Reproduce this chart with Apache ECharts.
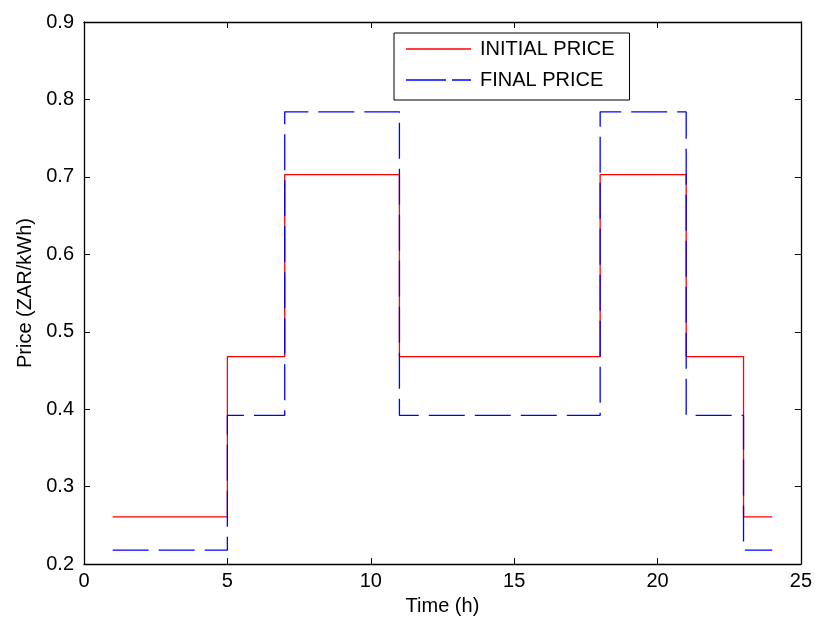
<!DOCTYPE html>
<html>
<head>
<meta charset="utf-8">
<script src="https://cdn.jsdelivr.net/npm/echarts@6/dist/echarts.min.js"></script>
<style>
  html, body { margin: 0; padding: 0; background: #fff; }
  #chart { width: 815px; height: 621px; }
</style>
</head>
<body>
<div id="chart"></div>
<script>
// Hourly tariff, stair-stepped over the day
const hours = [1, 2, 3, 4, 5, 6, 7, 8, 9, 10, 11, 12, 13, 14, 15, 16, 17, 18, 19, 20, 21, 22, 23, 24];
const initialPrice = [0.261, 0.261, 0.261, 0.261, 0.468, 0.468, 0.703, 0.703, 0.703, 0.703,
  0.468, 0.468, 0.468, 0.468, 0.468, 0.468, 0.468, 0.703, 0.703, 0.703, 0.468, 0.468, 0.261, 0.261];
const finalPrice = [0.218, 0.218, 0.218, 0.218, 0.392, 0.392, 0.784, 0.784, 0.784, 0.784,
  0.392, 0.392, 0.392, 0.392, 0.392, 0.392, 0.392, 0.784, 0.784, 0.784, 0.392, 0.392, 0.218, 0.218];
const xTicks = [0, 5, 10, 15, 20, 25];
const yTicks = [0.2, 0.3, 0.4, 0.5, 0.6, 0.7, 0.8, 0.9];

const font = 'Liberation Sans, Arial, Helvetica, sans-serif';
const chart = echarts.init(document.getElementById('chart'), null, { renderer: 'canvas' });

const pair = (xs, ys) => xs.map((x, i) => [x, ys[i]]);

const baseX = {
  type: 'value', min: xTicks[0], max: xTicks[xTicks.length - 1], interval: 5,
  splitLine: { show: false },
  axisLine: { show: true, onZero: false, lineStyle: { color: '#000', width: 1.3 } },
  axisTick: { show: true, inside: true, length: 6, lineStyle: { color: '#000' } }
};
const baseY = {
  type: 'value', min: yTicks[0], max: yTicks[yTicks.length - 1], interval: 0.1,
  splitLine: { show: false },
  axisLine: { show: true, onZero: false, lineStyle: { color: '#000', width: 1.3 } },
  axisTick: { show: true, inside: true, length: 6, lineStyle: { color: '#000' } }
};

// legend keys: a solid stroke and a long-dash stroke
const solidKey = 'path://M0,0H65V1.5H0Z';
const dashKey = 'path://M0,0H40V1.5H0Z M46,0H65V1.5H46Z';

chart.setOption({
  backgroundColor: '#fff',
  animation: false,
  textStyle: { fontFamily: font },
  grid: { left: 84, right: 13, top: 22, bottom: 55, containLabel: false },
  legend: {
    orient: 'vertical',
    left: 394, top: 33,
    backgroundColor: '#fff',
    borderColor: '#000', borderWidth: 1,
    padding: [5, 15, 9, 12],
    itemWidth: 65, itemHeight: 1.5, itemGap: 9,
    textStyle: { fontFamily: font, fontSize: 20, color: '#000', padding: [0, 0, 0, 4], lineHeight: 22 },
    data: [
      { name: 'INITIAL PRICE', icon: solidKey },
      { name: 'FINAL PRICE', icon: dashKey }
    ]
  },
  xAxis: [
    Object.assign({}, baseX, {
      position: 'bottom',
      name: 'Time (h)', nameLocation: 'middle', nameGap: 31,
      nameTextStyle: { fontFamily: font, fontSize: 20, color: '#000' },
      axisLabel: { show: true, color: '#000', fontSize: 20, fontFamily: font, margin: 7,
        formatter: v => String(v) }
    }),
    Object.assign({}, baseX, { position: 'top', axisLabel: { show: false } })
  ],
  yAxis: [
    Object.assign({}, baseY, {
      position: 'left',
      name: 'Price (ZAR/kWh)', nameLocation: 'middle', nameGap: 48, nameRotate: 90,
      nameTextStyle: { fontFamily: font, fontSize: 20, color: '#000' },
      axisLabel: { show: true, color: '#000', fontSize: 20, fontFamily: font, margin: 10,
        formatter: v => v.toFixed(1) }
    }),
    Object.assign({}, baseY, { position: 'right', axisLabel: { show: false } })
  ],
  series: [
    {
      name: 'INITIAL PRICE', type: 'line', step: 'end',
      data: pair(hours, initialPrice), symbol: 'none',
      xAxisIndex: 0, yAxisIndex: 0,
      lineStyle: { color: '#ff0000', width: 1.3, type: 'solid' },
      itemStyle: { color: '#ff0000' },
      z: 2
    },
    {
      name: 'FINAL PRICE', type: 'line', step: 'end',
      data: pair(hours, finalPrice), symbol: 'none',
      xAxisIndex: 0, yAxisIndex: 0,
      lineStyle: { color: '#0000ff', width: 1.3, type: [36, 10] },
      itemStyle: { color: '#0000ff' },
      z: 3
    }
  ]
});
</script>
</body>
</html>
